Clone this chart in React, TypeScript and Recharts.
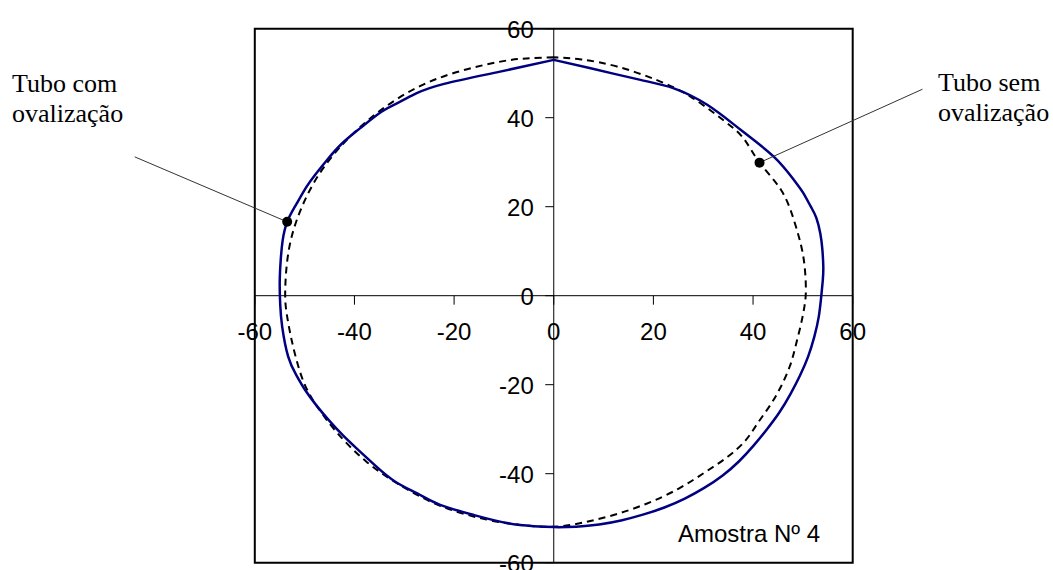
import { LineChart, Line, XAxis, YAxis, ReferenceLine, ReferenceArea, ReferenceDot } from 'recharts';

// Perfil medido do tubo ovalizado (contorno fechado, sentido anti-horário a partir do topo)
const tuboComX = [
  0, -11, -22, -27.5, -31, -34.5, -38.9, -42.5, -45.5, -47.8, -49.6, -51.8, -53.5, -54.4, -54.8, -55.0,
  -54.9, -54.5, -53.3, -51.7, -49.9, -47.6, -45.2, -42.3, -39.2, -35.7, -31.8, -27.3, -22.8, -16, -9.4, -4,
  0, 4.5, 9.1, 13.5, 17.9, 22.2, 26.3, 30.2, 33.9, 37.2, 40.1, 42.8, 45.3, 47.5, 49.4, 51.05,
  52.3, 53.2, 53.7, 54.0, 54.1, 53.9, 53.5, 52.7, 51.6, 50.0, 48.2, 44.2, 37.5, 30.8, 24.1, 17.4,
  7.4, 0,
];
const tuboComY = [
  53.0, 50.3, 47.6, 45.5, 43.5, 41.4, 37.6, 34.2, 30.5, 27.3, 24.5, 20.3, 16.6, 12.5, 8, 3,
  -2, -7, -13.7, -17.8, -21.2, -24.7, -27.9, -31.4, -34.7, -38.3, -41.8, -44.5, -47.0, -49.3, -51.1, -51.8,
  -52.0, -51.9, -51.4, -50.5, -49.2, -47.6, -45.6, -43.2, -40.4, -37.2, -33.7, -30.0, -26.2, -22.1, -18.0, -13.7,
  -9.2, -4.65, 0, 3.5, 6.5, 10.5, 14.0, 17.5, 20.0, 23.2, 26.0, 31.2, 37.3, 42.9, 46.6, 48.5,
  51.1, 53.0,
];

// Perfil de referência sem ovalização
const tuboSemX = [
  0, -5.5, -10.7, -19.6, -27.9, -35.3, -41.8, -47.1, -50.9, -53.2, -53.9, -53.6, -52.6, -50.6, -47.9, -43.7,
  -37.6, -30.5, -22.8, -13.5, -5, 0, 4.0, 11, 18.5, 25, 30.2, 34.9, 38.5, 40.9, 43.5, 45.6,
  47.4, 48.5, 49.6, 50.3, 50.6, 50.4, 49.7, 48.2, 45.6, 41.3, 38.2, 34.2, 27.5, 20.6, 12.7, 5.5, 0,
];
const tuboSemY = [
  53.6, 53.3, 52.6, 50.2, 46.5, 41.2, 34.7, 27.3, 19.0, 10.1, 1.0, -4, -10, -18.2, -24.2, -30.5,
  -37.3, -42.8, -47.2, -50.3, -51.7, -51.9, -51.4, -49.6, -46.8, -43.4, -39.8, -36.2, -32.5, -28.7, -24.5, -20.4,
  -15.8, -11.5, -6.5, -2.5, 1, 6, 11, 17.0, 23.8, 29.9, 35.2, 39.3, 44.7, 48.5, 51.5, 53.1, 53.6,
];

const axisTicks = [-60, -40, -20, 0, 20, 40, 60];

// pontos assinalados e extremidades das linhas de chamada
const markerCom = { x: -53.5, y: 16.6 };
const markerSem = { x: 41.3, y: 29.9 };
const leaderCom = { x: -84.1, y: 31.2 };
const leaderSem = { x: 74.0, y: 46.4 };

const toPoints = (xs: number[], ys: number[]) => xs.map((x, i) => ({ x, y: ys[i] }));

const W = 1053;
const H = 570;
const plotLeft = 254.8;
const plotRight = 852.7;
const plotTop = 28.7;
const plotBottom = 562.7;
const zeroX = (plotLeft + plotRight) / 2;
const zeroY = (plotTop + plotBottom) / 2;
// os eixos ocupam 1px cada (altura/largura 0 não são desenhados)
const margin = { top: plotTop, right: W - plotRight, bottom: H - plotBottom - 1, left: plotLeft - 1 };

const sans = '"Liberation Sans", Arial, sans-serif';
const serif = '"Liberation Serif", "Times New Roman", serif';

// eixos cruzam no centro: marcas e rótulos desenhados junto da origem
function XTick(props: any) {
  const { x, payload } = props;
  return (
    <g>
      <line x1={x} x2={x} y1={zeroY} y2={zeroY + 9} stroke="#000" strokeWidth={1} />
      <text x={x} y={zeroY + 44.5} textAnchor="middle" fontFamily={sans} fontSize={24} fill="#000">
        {payload.value}
      </text>
    </g>
  );
}

function YTick(props: any) {
  const { y, payload } = props;
  return (
    <g>
      <line x1={zeroX - 8.5} x2={zeroX} y1={y} y2={y} stroke="#000" strokeWidth={1} />
      <text x={zeroX - 20} y={y + 9} textAnchor="end" fontFamily={sans} fontSize={24} fill="#000">
        {payload.value}
      </text>
    </g>
  );
}

export default function App() {
  return (
    <div style={{ position: 'absolute', left: 0, top: 0, width: W, height: H, background: '#fff' }}>
      <LineChart width={W} height={H} margin={margin}>
        <XAxis
          type="number"
          dataKey="x"
          domain={[-60, 60]}
          ticks={axisTicks}
          allowDataOverflow
          height={1}
          axisLine={false}
          tickLine={false}
          tick={(p: any) => <XTick {...p} />}
          interval={0}
        />
        <YAxis
          type="number"
          dataKey="y"
          domain={[-60, 60]}
          ticks={axisTicks}
          allowDataOverflow
          width={1}
          axisLine={false}
          tickLine={false}
          tick={(p: any) => <YTick {...p} />}
          interval={0}
        />
        <ReferenceArea x1={-60} x2={60} y1={-60} y2={60} fill="none" fillOpacity={0} stroke="#000" strokeWidth={2} />
        <ReferenceLine x={0} stroke="#000" strokeWidth={1} />
        <ReferenceLine y={0} stroke="#000" strokeWidth={1} />
        <Line
          data={toPoints(tuboSemX, tuboSemY)}
          dataKey="y"
          type="natural"
          stroke="#000"
          strokeWidth={2}
          strokeDasharray="7 5"
          dot={false}
          activeDot={false}
          isAnimationActive={false}
        />
        <Line
          data={toPoints(tuboComX, tuboComY)}
          dataKey="y"
          type="natural"
          stroke="#000080"
          strokeWidth={2.5}
          dot={false}
          activeDot={false}
          isAnimationActive={false}
        />
        <ReferenceLine
          segment={[leaderCom, markerCom]}
          stroke="#333"
          strokeWidth={1}
          ifOverflow="visible"
        />
        <ReferenceLine
          segment={[markerSem, leaderSem]}
          stroke="#333"
          strokeWidth={1}
          ifOverflow="visible"
        />
        <ReferenceDot x={markerCom.x} y={markerCom.y} r={5} fill="#000" stroke="none" />
        <ReferenceDot x={markerSem.x} y={markerSem.y} r={5} fill="#000" stroke="none" />
      </LineChart>
      <svg
        width={W}
        height={H}
        style={{ position: 'absolute', left: 0, top: 0, pointerEvents: 'none' }}
      >
        <text fontFamily={serif} fontSize={26} fill="#000">
          <tspan x={12} y={91.5}>Tubo com</tspan>
          <tspan x={12} y={121.5}>ovalização</tspan>
        </text>
        <text fontFamily={serif} fontSize={26} fill="#000">
          <tspan x={938} y={91}>Tubo sem</tspan>
          <tspan x={938} y={121}>ovalização</tspan>
        </text>
        <text x={678} y={541.5} fontFamily={sans} fontSize={24} fill="#000">
          Amostra Nº 4
        </text>
      </svg>
    </div>
  );
}
